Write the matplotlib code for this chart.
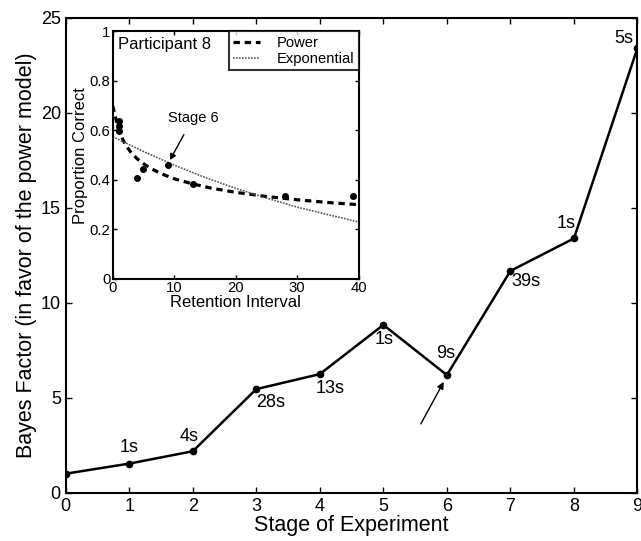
import matplotlib
matplotlib.use("Agg")
import matplotlib.pyplot as plt

plt.rcParams['font.family'] = ['Liberation Sans', 'DejaVu Sans']

# Main chart data
stages = [0, 1, 2, 3, 4, 5, 6, 7, 8, 9]
bayes_factor = [1.0, 1.53, 2.18, 5.45, 6.24, 8.83, 6.19, 11.67, 13.38, 23.4]
stage_labels = ["", "1s", "4s", "28s", "13s", "1s", "9s", "39s", "1s", "5s"]
label_offsets = [(0, 0), (0, 16), (-4, 15), (14, -13), (10, -14), (1, -15),
                 (-1, 22), (15, -11), (-8, 15), (-14, 9)]

# Inset data
ret_interval = [1, 1, 1, 4, 5, 9, 13, 28, 39]
prop_correct = [0.639, 0.619, 0.598, 0.407, 0.445, 0.46, 0.383, 0.336, 0.335]
power_x = [0, 1, 2, 3, 4, 5, 6, 8, 10, 13, 16, 20, 25, 30, 35, 40]
power_y = [0.70, 0.598, 0.545, 0.51, 0.485, 0.466, 0.449, 0.424, 0.405, 0.384,
           0.367, 0.35, 0.333, 0.32, 0.309, 0.30]
expo_x = [0, 5, 10, 15, 20, 25, 30, 35, 40]
expo_y = [0.575, 0.515, 0.46, 0.41, 0.366, 0.327, 0.29, 0.26, 0.23]

fig = plt.figure(figsize=(6.41, 5.41), dpi=100)
ax = fig.add_axes([0.1025, 0.0893, 0.892, 0.8782])
ax.plot(stages, bayes_factor, color='black', lw=1.8, marker='o', ms=4.5)
for x, y, lab, (dx, dy) in zip(stages, bayes_factor, stage_labels, label_offsets):
    if lab:
        ax.annotate(lab, (x, y), xytext=(dx * 0.72, dy * 0.72), textcoords='offset points',
                    ha='center', va='center', fontsize=13)
ax.annotate("", xy=(5.95, 5.83), xytext=(5.59, 3.62),
            arrowprops=dict(arrowstyle='-|>', color='black', lw=1.0,
                            mutation_scale=10, shrinkA=0, shrinkB=0))
ax.set_xlim(0, 9)
ax.set_ylim(0, 25)
ax.set_xticks(range(10))
ax.set_yticks([0, 5, 10, 15, 20, 25])
ax.tick_params(direction='in', top=True, right=True, labelsize=13, length=4, width=1)
for s in ax.spines.values():
    s.set_linewidth(1.5)
ax.set_xlabel("Stage of Experiment", fontsize=15.5, labelpad=0)
ax.set_ylabel("Bayes Factor (in favor of the power model)", fontsize=15.5, labelpad=3)

# Inset
ins = fig.add_axes([0.1758, 0.4843, 0.3838, 0.4577])
ins.plot(power_x, power_y, color='black', lw=2.3, ls=(0, (2, 1.5)), label='Power')
ins.plot(expo_x, expo_y, color='#555555', lw=1.2, ls=(0, (1, 0.8)), label='Exponential')
ins.plot(ret_interval, prop_correct, 'o', color='black', ms=4, clip_on=False)
ins.set_xlim(0, 40)
ins.set_ylim(0, 1)
ins.set_xticks([0, 10, 20, 30, 40])
ins.set_yticks([0, 0.2, 0.4, 0.6, 0.8, 1])
ins.set_yticklabels(["0", "0.2", "0.4", "0.6", "0.8", "1"])
ins.tick_params(direction='in', top=True, right=True, labelsize=10.7, length=3, width=1, pad=1.5)
for s in ins.spines.values():
    s.set_linewidth(1.5)
ins.set_xlabel("Retention Interval", fontsize=12, labelpad=0)
ins.set_ylabel("Proportion Correct", fontsize=12, labelpad=1)
ins.text(0.9, 0.946, "Participant 8", fontsize=12, ha='left', va='center')
leg = ins.legend(loc='upper right', fontsize=10.6, borderaxespad=0, fancybox=False,
                 frameon=True, handlelength=1.85, handletextpad=1.1, borderpad=0.3,
                 labelspacing=0.15)
leg.get_frame().set_edgecolor('black')
leg.get_frame().set_linewidth(1.5)
ins.annotate("Stage 6", xy=(9.3, 0.48), xytext=(13.1, 0.652), ha='center', va='center',
             fontsize=10.5,
             arrowprops=dict(arrowstyle='-|>', color='black', lw=1.0, mutation_scale=9,
                             shrinkA=6, shrinkB=0))

fig.savefig("out.png", dpi=100)
